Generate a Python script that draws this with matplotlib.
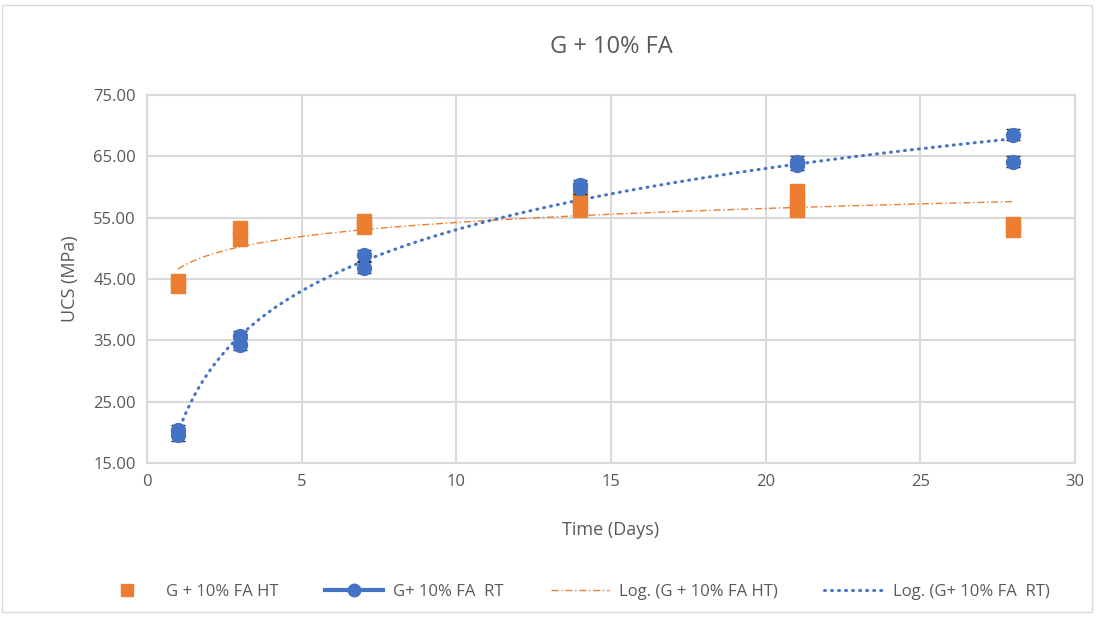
import numpy as np
import matplotlib.pyplot as plt
from matplotlib.lines import Line2D
from matplotlib.patches import Rectangle

# replicate readings (days, MPa)
ht_days = [1, 1, 3, 3, 7, 7, 14, 14, 21, 21, 21, 28, 28]
ht_ucs = [44.6, 43.9, 53.3, 51.6, 54.5, 53.4, 58.0, 56.2, 59.3, 57.6, 56.3, 54.0, 53.0]
rt_days = [1, 1, 3, 3, 7, 7, 14, 14, 21, 21, 28, 28]
rt_ucs = [20.3, 19.5, 35.7, 34.3, 48.9, 46.8, 60.3, 59.8, 64.1, 63.6, 68.5, 64.1]
err = 0.9

orange = '#ED7D31'
blue = '#4472C4'
txt = '#595959'

plt.rcParams['font.family'] = ['Open Sans', 'DejaVu Sans']

fig = plt.figure(figsize=(11.03, 6.26), dpi=100)
ax = fig.add_axes([147/1103, 1-463/626, (1075-147)/1103, (463-95)/626])

ax.errorbar(ht_days, ht_ucs, yerr=err, fmt='s', color=orange, ms=10,
            ecolor='#262626', elinewidth=1, capsize=5, zorder=3)
ax.errorbar(rt_days, rt_ucs, yerr=err, fmt='o', color=blue, ms=10,
            ecolor='#262626', elinewidth=1, capsize=5, zorder=4)

# logarithmic trendlines fitted to the data
xs = np.linspace(1, 28, 200)
a1, b1 = np.polyfit(np.log(ht_days), ht_ucs, 1)
a2, b2 = np.polyfit(np.log(rt_days), rt_ucs, 1)
dot = (0, (0.3, 2.0))
dashdot = (0, (5, 2, 1, 2))
ax.plot(xs, a1*np.log(xs)+b1, color=orange, lw=1, ls=dashdot, zorder=2)
ax.plot(xs, a2*np.log(xs)+b2, color=blue, lw=2.2, ls=dot,
        dash_capstyle='round', zorder=2)

ax.set_xlim(0, 30)
ax.set_ylim(15, 75)
ax.set_xticks(range(0, 31, 5))
ax.set_yticks(range(15, 76, 10))
ax.set_yticklabels([f'{v:.2f}' for v in range(15, 76, 10)])
ax.grid(True, color='#D9D9D9', lw=1.5)
ax.set_axisbelow(True)
for s in ax.spines.values():
    s.set_color('#D9D9D9')
    s.set_linewidth(1.5)
ax.tick_params(length=0, labelsize=12, colors=txt, pad=8)

ax.set_title('G + 10% FA', fontsize=17, color=txt, pad=30)
ax.set_xlabel('Time (Days)', fontsize=13, color=txt, labelpad=22)
ax.set_ylabel('UCS (MPa)', fontsize=13, color=txt, labelpad=10)

handles = [
    Line2D([], [], marker='s', ls='none', color=orange, ms=8),
    Line2D([], [], marker='o', color=blue, lw=3, ms=9),
    Line2D([], [], color=orange, lw=1, ls=dashdot),
    Line2D([], [], color=blue, lw=2.2, ls=dot, dash_capstyle='round'),
]
labels = ['G + 10% FA HT', 'G+ 10% FA  RT', 'Log. (G + 10% FA HT)', 'Log. (G+ 10% FA  RT)']
leg = fig.legend(handles, labels, loc='center', bbox_to_anchor=(0.52, 1-592/626),
                 ncol=4, frameon=False, fontsize=12, handlelength=3.5,
                 handletextpad=0.6, columnspacing=2.8, labelcolor=txt)

fig.patches.append(Rectangle((0.002, 1-612/626), 1090/1103, 607/626,
                             transform=fig.transFigure, fill=False,
                             ec='#D9D9D9', lw=1))

fig.savefig('out.png', dpi=100)
